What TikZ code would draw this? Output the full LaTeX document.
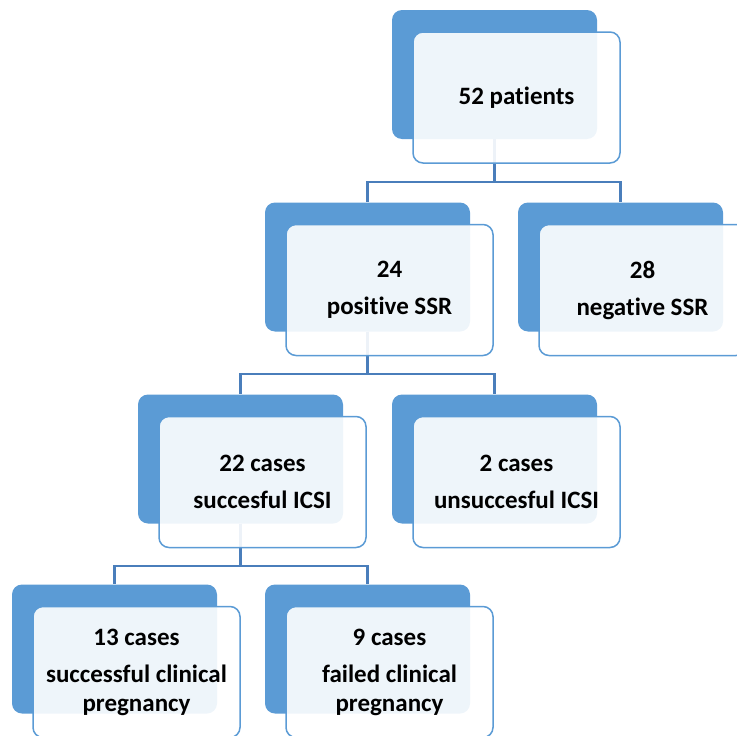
\documentclass[tikz,border=0pt]{standalone}
\usepackage{fontspec}
\setmainfont{Carlito}[Ligatures=NoCommon]
\usetikzlibrary{positioning}
\definecolor{boxblue}{HTML}{5B9BD5}
\definecolor{linkblue}{HTML}{4A7EBB}
\tikzset{
  back/.style={fill=boxblue, rounded corners=10pt, minimum width=205pt, minimum height=129pt, inner sep=0pt},
  front/.style={draw=boxblue, line width=1.5pt, fill=white, fill opacity=0.9, text opacity=1,
    rounded corners=10pt, minimum width=207pt, minimum height=131pt, inner sep=0pt,
    align=center, font=\fontsize{25}{29}\selectfont\bfseries},
  link/.style={draw=linkblue, line width=2.2pt}
}
\begin{document}
\begin{tikzpicture}[x=1pt,y=-1pt]
        \useasboundingbox (0,0) rectangle (737,736);
        \node[back] (pat) at (494.5,74.5) {};
        \node[back] (pos) at (367.5,267) {};
        \node[back] (neg) at (620.5,267) {};
        \node[back] (icsiok) at (240.5,459) {};
        \node[back] (icsino) at (494.5,459) {};
        \node[back] (preg) at (114.5,649) {};
        \node[back] (fail) at (367.5,649) {};
        \draw[link] (pat.south) -- ++(0,43) -| (pos.north);
        \draw[link] (pat.south) -- ++(0,43) -| (neg.north);
        \draw[link] (pos.south) -- ++(0,42) -| (icsiok.north);
        \draw[link] (pos.south) -- ++(0,42) -| (icsino.north);
        \draw[link] (icsiok.south) -- ++(0,42) -| (preg.north);
        \draw[link] (icsiok.south) -- ++(0,42) -| (fail.north);
        \node[front] (patL) at ([shift={(22,23)}]pat.center) {52 patients};
        \node[front] (posL) at ([shift={(22,23)}]pos.center) {24\\[8pt]positive SSR};
        \node[front] (negL) at ([shift={(22,23)}]neg.center) {28\\[8pt]negative SSR};
        \node[front] (icsiokL) at ([shift={(22,23)}]icsiok.center) {22 cases\\[8pt]succesful ICSI};
        \node[front] (icsinoL) at ([shift={(22,23)}]icsino.center) {2 cases\\[8pt]unsuccesful ICSI};
        \node[front] (pregL) at ([shift={(22,23)}]preg.center) {13 cases\\[8pt]successful clinical\\pregnancy};
        \node[front] (failL) at ([shift={(22,23)}]fail.center) {9 cases\\[8pt]failed clinical\\pregnancy};
    \end{tikzpicture}
\end{document}
